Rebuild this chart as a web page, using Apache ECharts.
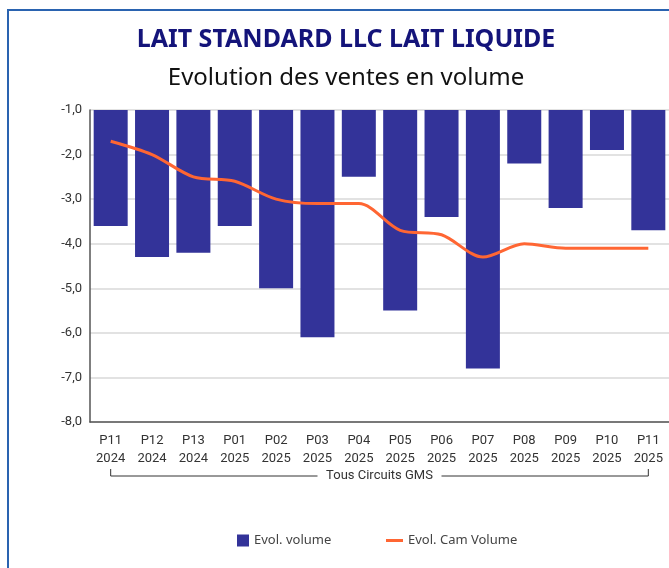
<!DOCTYPE html>
<html><head><meta charset="utf-8">
<script src="https://cdn.jsdelivr.net/npm/echarts@6/dist/echarts.min.js"></script>
<style>
html,body{margin:0;padding:0;background:#fff;overflow:hidden;}
#frame{position:absolute;left:7px;top:9px;width:700px;height:600px;border-left:2px solid #2a63b0;border-top:2px solid #2a63b0;box-sizing:border-box;}
#c{position:absolute;left:0;top:0;width:669px;height:568px;}
</style></head>
<body>
<div id="frame"></div>
<div id="c"></div>
<script>
const periods = ['P11','P12','P13','P01','P02','P03','P04','P05','P06','P07','P08','P09','P10','P11'];
const years = ['2024','2024','2024','2025','2025','2025','2025','2025','2025','2025','2025','2025','2025','2025'];
const evolVolume = [-3.6,-4.3,-4.2,-3.6,-5.0,-6.1,-2.5,-5.5,-3.4,-6.8,-2.2,-3.2,-1.9,-3.7];
const evolCamVolume = [-1.7,-2.0,-2.5,-2.6,-3.0,-3.1,-3.1,-3.7,-3.8,-4.3,-4.0,-4.1,-4.1,-4.1];
const groupLabel = 'Tous Circuits GMS';
const categories = periods.map((p,i)=>p+'\n'+years[i]);

const FONT = 'Roboto, "Noto Sans", sans-serif';
const FONT2 = '"Noto Sans", Roboto, sans-serif';
const chart = echarts.init(document.getElementById('c'), null, {renderer:'canvas'});
chart.setOption({
  animation:false,
  textStyle:{fontFamily:FONT},
  title:[
    {text:'LAIT STANDARD LLC LAIT LIQUIDE', left:341, textAlign:'center', top:22,
     textStyle:{fontSize:25, fontWeight:'bold', color:'#14147a', fontFamily:FONT2}},
    {text:'Evolution des ventes en volume', left:341, textAlign:'center', top:61,
     textStyle:{fontSize:24, fontWeight:'normal', color:'#111', fontFamily:FONT2}}
  ],
  grid:{left:90, right:0, top:110, bottom:146, containLabel:false},
  legend:[
    {data:['Evol. volume'], left:232, top:529, itemWidth:12, itemHeight:12, icon:'rect', itemGap:8,
     textStyle:{fontSize:13, color:'#444', fontFamily:FONT2}},
    {data:['Evol. Cam Volume'], left:381, top:529, itemWidth:17, itemHeight:3, icon:'rect',
     textStyle:{fontSize:13, color:'#444', fontFamily:FONT2}}
  ],
  xAxis:{type:'category', data:categories,
    axisLine:{lineStyle:{color:'#555', width:1.5}},
    axisTick:{show:false},
    axisLabel:{color:'#333', fontSize:13, lineHeight:18, margin:10, interval:0, fontFamily:FONT}
  },
  yAxis:{type:'value', min:-8, max:-1, interval:1,
    axisLine:{show:true, lineStyle:{color:'#555', width:1.5}},
    axisTick:{show:false},
    splitLine:{lineStyle:{color:'#d9d9d9', width:1.5}},
    axisLabel:{color:'#333', fontSize:13, margin:8, fontFamily:FONT,
      formatter:v=>v.toFixed(1).replace('.',',')}
  },
  series:[
    {name:'Evol. volume', type:'bar', data:evolVolume, barWidth:34, clip:true,
     itemStyle:{color:'#333399'}},
    {name:'Evol. Cam Volume', type:'line', data:evolCamVolume, smooth:0.3, symbol:'none',
     lineStyle:{color:'#ff6633', width:3}, itemStyle:{color:'#ff6633'}}
  ]
});

// bracket under the category labels
const x0 = chart.convertToPixel({xAxisIndex:0}, categories[0]);
const x1 = chart.convertToPixel({xAxisIndex:0}, categories.length-1);
const yb = 476, mid = (x0+x1)/2, half = 62;
chart.setOption({graphic:[
  {type:'polyline', shape:{points:[[x0,469],[x0,yb],[mid-half,yb]]}, style:{stroke:'#333', lineWidth:1, fill:null}},
  {type:'polyline', shape:{points:[[mid+half,yb],[x1,yb],[x1,469]]}, style:{stroke:'#333', lineWidth:1, fill:null}},
  {type:'text', x:mid, y:yb, style:{text:groupLabel, align:'center', verticalAlign:'middle', fontSize:13, fill:'#333', fontFamily:FONT}}
]});
</script>
</body></html>
